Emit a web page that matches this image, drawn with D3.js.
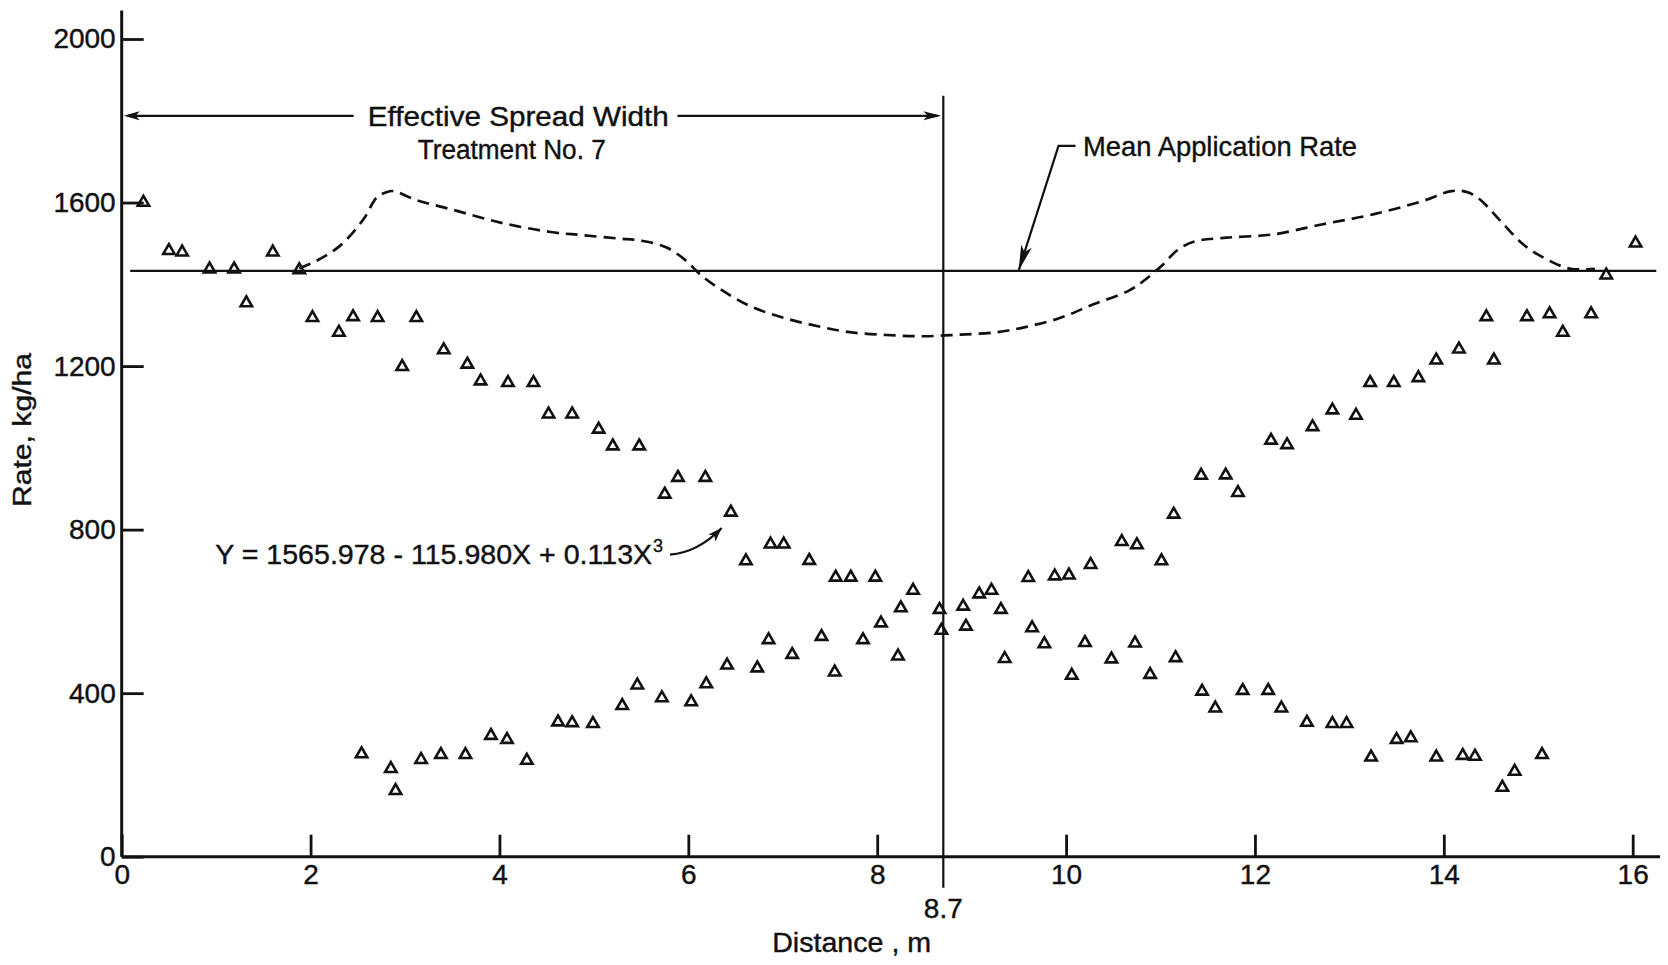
<!DOCTYPE html>
<html>
<head>
<meta charset="utf-8">
<script src="https://cdn.jsdelivr.net/npm/d3@7"></script>
<style>
  html, body { margin: 0; padding: 0; background: #fff; }
  svg { display: block; }
  text { font-family: "Liberation Sans", Arial, sans-serif; fill: #111; stroke: #111; stroke-width: 0.4px; }
</style>
</head>
<body>
<script>
const width = 1668;
const height = 965;

// triangles of the pass that falls off from 0 m
const fallingDist = [0.23, 0.50, 0.64, 0.93, 1.19, 1.32, 1.60, 1.88, 2.02, 2.30, 2.45, 2.71, 2.97, 3.12,
  3.41, 3.66, 3.80, 4.09, 4.36, 4.52, 4.77, 5.05, 5.20, 5.48, 5.75, 5.89, 6.18, 6.45, 6.61, 6.87, 7.01,
  7.28, 7.56, 7.72, 7.98, 8.38, 8.66, 8.94, 9.31, 9.35, 9.64, 9.77, 10.06, 10.20, 10.48, 10.73, 10.89,
  11.16, 11.44, 11.58, 11.87, 12.14, 12.28, 12.55, 12.82, 12.97, 13.23, 13.50, 13.65, 13.92, 14.20,
  14.33, 14.62, 14.75, 15.04];
const fallingRate = [1604, 1486, 1482, 1441, 1441, 1358, 1482, 1439, 1322, 1286, 1324, 1322, 1202, 1322,
  1243, 1208, 1167, 1163, 1163, 1086, 1086, 1049, 1008, 1008, 890, 931, 931, 846, 727, 768, 768,
  728, 687, 687, 687, 655, 608, 567, 608, 488, 563, 524, 447, 527, 487, 526, 449,
  490, 408, 367, 410, 410, 367, 332, 329, 329, 247, 290, 294, 247, 251,
  249, 173, 212, 253];

// triangles of the overlapping pass, rising toward 16 m
const risingDist = [2.54, 2.85, 2.90, 3.17, 3.38, 3.64, 3.91, 4.08, 4.29, 4.62, 4.77, 4.99, 5.30, 5.46,
  5.72, 6.03, 6.19, 6.41, 6.73, 6.85, 7.10, 7.41, 7.55, 7.85, 8.04, 8.22, 8.25, 8.68, 8.91, 9.08, 9.21,
  9.60, 9.88, 10.03, 10.26, 10.59, 10.75, 11.01, 11.14, 11.43, 11.69, 11.82, 12.17, 12.34, 12.61, 12.82,
  13.07, 13.22, 13.47, 13.73, 13.92, 14.16, 14.45, 14.53, 14.88, 15.12, 15.26, 15.56, 15.72, 16.03];
const risingRate = [255, 219, 165, 241, 253, 253, 300, 290, 239, 333, 331, 329, 373, 423,
  392, 382, 426, 472, 465, 534, 498, 542, 455, 534, 575, 494, 612, 557, 616, 646, 655,
  686, 690, 692, 718, 774, 766, 727, 841, 936, 937, 894, 1022, 1011, 1055, 1096,
  1083, 1163, 1163, 1175, 1218, 1245, 1324, 1218, 1324, 1331, 1286, 1331, 1426, 1504];

// dashed curve: the overlapped (combined) pattern
const combinedDist = [1.88, 2.06, 2.31, 2.56, 2.70, 2.81, 2.88, 3.12, 3.48, 4.01, 4.54, 4.89, 5.26, 5.52,
  5.77, 5.98, 6.12, 6.34, 6.65, 7.01, 7.36, 7.71, 8.10, 8.49, 8.88, 9.27, 9.58, 9.94, 10.29, 10.66,
  10.82, 11.03, 11.17, 11.35, 11.70, 12.19, 12.72, 13.25, 13.78, 14.08, 14.24, 14.38, 14.60, 14.84,
  15.09, 15.34, 15.60];
const combinedRate = [1439, 1457, 1494, 1559, 1612, 1626, 1628, 1606, 1584, 1551, 1528, 1520, 1512, 1506,
  1490, 1457, 1425, 1388, 1347, 1318, 1298, 1283, 1276, 1273, 1277, 1283, 1296, 1318, 1351, 1384,
  1408, 1449, 1482, 1504, 1514, 1522, 1547, 1571, 1604, 1628, 1626, 1608, 1555, 1498,
  1461, 1438, 1438];

const meanRate = 1433;
const spreadWidth = 8.7;

const xTicks = [0, 2, 4, 6, 8, 10, 12, 14, 16];
const yTicks = [0, 400, 800, 1200, 1600, 2000];

const ink = '#111';

const x = d3.scaleLinear().domain([0, 16]).range([121.7, 1632.7]);
const y = d3.scaleLinear().domain([0, 2000]).range([856.7, 39]);

const svg = d3.select('body')
  .append('svg')
  .attr('width', width)
  .attr('height', height)
  .attr('viewBox', `0 0 ${width} ${height}`);

svg.append('rect').attr('width', width).attr('height', height).attr('fill', '#fff');

// axes lines
svg.append('line')
  .attr('x1', x(0)).attr('x2', x(16.29))
  .attr('y1', y(0)).attr('y2', y(0))
  .attr('stroke', ink).attr('stroke-width', 3);
svg.append('line')
  .attr('x1', x(0)).attr('x2', x(0))
  .attr('y1', y(0)).attr('y2', y(2070))
  .attr('stroke', ink).attr('stroke-width', 3);

const xAxis = svg.append('g')
  .attr('transform', `translate(0,${y(0)})`)
  .call(d3.axisBottom(x).tickValues(xTicks).tickFormat(d3.format('d'))
    .tickSizeInner(-22).tickSizeOuter(0).tickPadding(7));
const yAxis = svg.append('g')
  .attr('transform', `translate(${x(0)},0)`)
  .call(d3.axisLeft(y).tickValues(yTicks).tickFormat(d3.format('d'))
    .tickSizeInner(-22).tickSizeOuter(0).tickPadding(6));

[xAxis, yAxis].forEach(g => {
  g.select('.domain').remove();
  g.attr('font-family', null).attr('font-size', null);
  g.selectAll('.tick line').attr('stroke', ink).attr('stroke-width', 2.8);
  g.selectAll('.tick text').attr('font-size', 28).attr('fill', ink);
});

// mean application rate
svg.append('line')
  .attr('x1', x(0.09)).attr('x2', x(16.25))
  .attr('y1', y(meanRate)).attr('y2', y(meanRate))
  .attr('stroke', ink).attr('stroke-width', 2.2);

// effective spread width boundary
svg.append('line')
  .attr('x1', x(spreadWidth)).attr('x2', x(spreadWidth))
  .attr('y1', y(1861)).attr('y2', y(0) + 31)
  .attr('stroke', ink).attr('stroke-width', 2.2);

// combined pattern
const line = d3.line()
  .x(d => x(d[0]))
  .y(d => y(d[1]))
  .curve(d3.curveCatmullRom.alpha(0.5));

svg.append('path')
  .datum(d3.zip(combinedDist, combinedRate))
  .attr('d', line)
  .attr('fill', 'none')
  .attr('stroke', ink)
  .attr('stroke-width', 2.7)
  .attr('stroke-dasharray', '12,7');

// triangles
const tri = d3.symbol().type(d3.symbolTriangle).size(56);
const points = d3.zip(fallingDist, fallingRate).concat(d3.zip(risingDist, risingRate));
svg.append('g')
  .selectAll('path')
  .data(points)
  .join('path')
  .attr('transform', d => `translate(${x(d[0])},${y(d[1]) + 1.5})`)
  .attr('d', tri)
  .attr('fill', 'none')
  .attr('stroke', ink)
  .attr('stroke-width', 2.6)
  .attr('stroke-linejoin', 'miter');

// helpers
function arrowHead(tip, from, len, hw) {
  const dx = tip[0] - from[0], dy = tip[1] - from[1];
  const l = Math.hypot(dx, dy);
  const ux = dx / l, uy = dy / l;
  const bx = tip[0] - ux * len, by = tip[1] - uy * len;
  const nx = -uy, ny = ux;
  return `M${tip[0]},${tip[1]}L${bx + nx * hw},${by + ny * hw}L${tip[0] - ux * len * 0.75},${tip[1] - uy * len * 0.75}L${bx - nx * hw},${by - ny * hw}Z`;
}

function label(txt, px, cy, size, anchor, len) {
  const t = svg.append('text')
    .attr('x', px)
    .attr('y', cy + size * 0.36)
    .attr('font-size', size)
    .attr('text-anchor', anchor)
    .text(txt);
  if (len) t.attr('textLength', len).attr('lengthAdjust', 'spacingAndGlyphs');
  return t;
}

// "Effective Spread Width" arrows
const arrowY = y(1812);
svg.append('line')
  .attr('x1', x(2.456)).attr('x2', x(0) + 6)
  .attr('y1', arrowY).attr('y2', arrowY)
  .attr('stroke', ink).attr('stroke-width', 2.2);
svg.append('path')
  .attr('d', arrowHead([x(0) + 2, arrowY], [x(1), arrowY], 16, 4.5))
  .attr('fill', ink);
svg.append('line')
  .attr('x1', x(5.885)).attr('x2', x(spreadWidth) - 6)
  .attr('y1', arrowY).attr('y2', arrowY)
  .attr('stroke', ink).attr('stroke-width', 2.2);
svg.append('path')
  .attr('d', arrowHead([x(spreadWidth) - 2, arrowY], [x(7), arrowY], 18, 4.5))
  .attr('fill', ink);

label('Effective Spread Width', x(4.2), arrowY, 27, 'middle', 301);
label('Treatment No. 7', x(4.13), y(1731), 27, 'middle', 188);

// mean rate label with leader
const lead = [[x(10.1), y(1738.7)], [x(9.92), y(1738.7)], [x(9.497), y(meanRate)]];
svg.append('path')
  .attr('d', d3.line()(lead))
  .attr('fill', 'none')
  .attr('stroke', ink)
  .attr('stroke-width', 2.2);
svg.append('path')
  .attr('d', arrowHead(lead[2], lead[1], 26, 5.5))
  .attr('fill', ink);
label('Mean Application Rate', x(10.18), y(1738), 28, 'start', 274);

// regression equation
label('Y = 1565.978 - 115.980X + 0.113X', x(0.99), y(741), 28, 'start', 437);
label('3', x(5.626), y(760), 18, 'start');
const eqStart = [x(5.806), y(739)];
const eqCtrl = [x(6.1), y(744)];
const eqEnd = [x(6.353), y(804)];
svg.append('path')
  .attr('d', `M${eqStart}Q${eqCtrl} ${eqEnd}`)
  .attr('fill', 'none')
  .attr('stroke', ink)
  .attr('stroke-width', 2.2);
svg.append('path')
  .attr('d', arrowHead(eqEnd, eqCtrl, 14, 5))
  .attr('fill', ink);

// axis titles
label('8.7', x(spreadWidth), y(0) + 51, 28, 'middle');
label('Distance , m', x(7.73), y(0) + 86, 27, 'middle', 159);
svg.append('text')
  .attr('transform', 'translate(31,430) rotate(-90)')
  .attr('font-size', 26)
  .attr('text-anchor', 'middle')
  .attr('textLength', 154)
  .attr('lengthAdjust', 'spacingAndGlyphs')
  .text('Rate, kg/ha');
</script>
</body>
</html>
